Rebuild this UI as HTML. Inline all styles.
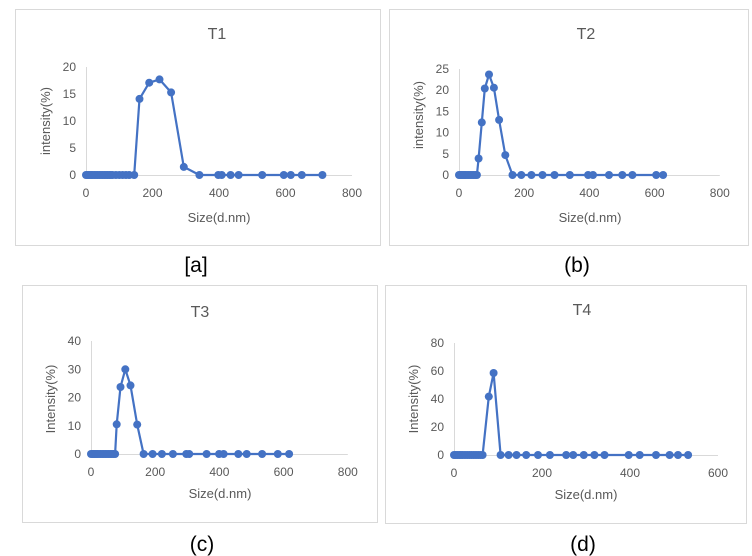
<!DOCTYPE html>
<html><head><meta charset="utf-8"><style>
html,body{margin:0;padding:0;background:#fff;}
svg{display:block;font-family:"Liberation Sans",sans-serif;}
</style></head><body>
<svg id="s" width="752" height="556" xmlns="http://www.w3.org/2000/svg">
<rect x="15.5" y="9.5" width="365" height="236" fill="#fff" stroke="#d9d9d9"/>
<rect x="389.5" y="9.5" width="359" height="236" fill="#fff" stroke="#d9d9d9"/>
<rect x="22.5" y="285.5" width="355" height="237" fill="#fff" stroke="#d9d9d9"/>
<rect x="385.5" y="285.5" width="361" height="238" fill="#fff" stroke="#d9d9d9"/>
<text x="217" y="39" font-size="16" fill="#595959" text-anchor="middle">T1</text>
<text x="586" y="39" font-size="16" fill="#595959" text-anchor="middle">T2</text>
<text x="200" y="317" font-size="16" fill="#595959" text-anchor="middle">T3</text>
<text x="582" y="315" font-size="16" fill="#595959" text-anchor="middle">T4</text>
<text x="219" y="222" font-size="13" fill="#595959" text-anchor="middle">Size(d.nm)</text>
<text x="590" y="222" font-size="13" fill="#595959" text-anchor="middle">Size(d.nm)</text>
<text x="220" y="498" font-size="13" fill="#595959" text-anchor="middle">Size(d.nm)</text>
<text x="586" y="499" font-size="13" fill="#595959" text-anchor="middle">Size(d.nm)</text>
<text transform="translate(50,121) rotate(-90)" font-size="13" fill="#595959" text-anchor="middle">intensity(%)</text>
<text transform="translate(423,115) rotate(-90)" font-size="13" fill="#595959" text-anchor="middle">intensity(%)</text>
<text transform="translate(55,399) rotate(-90)" font-size="13" fill="#595959" text-anchor="middle">Intensity(%)</text>
<text transform="translate(418,399) rotate(-90)" font-size="13" fill="#595959" text-anchor="middle">Intensity(%)</text>
<text x="196" y="272" font-size="21" fill="#000" text-anchor="middle">[a]</text>
<text x="577" y="272" font-size="21" fill="#000" text-anchor="middle">(b)</text>
<text x="202" y="551" font-size="21" fill="#000" text-anchor="middle">(c)</text>
<text x="583" y="551" font-size="21" fill="#000" text-anchor="middle">(d)</text>
</svg>
<script>
var s=document.getElementById('s'),NS='http://www.w3.org/2000/svg';
function el(t,a,txt){var e=document.createElementNS(NS,t);for(var k in a)e.setAttribute(k,a[k]);if(txt!==undefined)e.textContent=txt;s.appendChild(e);return e;}
function zeros(m){var r=[],v=[0,4,8,12,16,20,25,30,35,40,45,50,55,60,65,70,75,80,90,100,110,120,130,145];for(var i=0;i<v.length;i++)if(v[i]<=m)r.push([v[i],0]);return r;}
function chart(c){
 el('line',{x1:c.ox,y1:c.oy+0.5,x2:c.ox+c.xmax*c.sx,y2:c.oy+0.5,stroke:'#d9d9d9','stroke-width':1});
 el('line',{x1:c.ox+0.5,y1:c.oy,x2:c.ox+0.5,y2:c.oy-c.ymax*c.sy,stroke:'#d9d9d9','stroke-width':1});
 for(var y=0;y<=c.ymax;y+=c.ys)el('text',{x:c.ox-10,y:c.oy-y*c.sy+4,'font-size':12,fill:'#595959','text-anchor':'end'},y);
 for(var x=0;x<=c.xmax;x+=c.xs)el('text',{x:c.ox+x*c.sx,y:c.oy+22,'font-size':12,fill:'#595959','text-anchor':'middle'},x);
 var p=c.d.map(function(q){return (c.ox+q[0]*c.sx).toFixed(1)+','+(c.oy-q[1]*c.sy).toFixed(1);});
 el('polyline',{points:p.join(' '),fill:'none',stroke:'#4472c4','stroke-width':2.2,'stroke-linejoin':'round'});
 p.forEach(function(q){var a=q.split(',');el('circle',{cx:a[0],cy:a[1],r:4,fill:'#4472c4'});});
}
chart({ox:86,oy:175,sx:0.3325,sy:5.4,xmax:800,ymax:20,xs:200,ys:5,
 d:zeros(145).concat([[161,14.1],[190,17.1],[221,17.7],[256,15.3],[294,1.5],[341,0],[398,0],[408,0],[435,0],[459,0],[530,0],[595,0],[616,0],[649,0],[711,0]])});
chart({ox:459,oy:175,sx:0.326,sy:4.24,xmax:800,ymax:25,xs:200,ys:5,
 d:zeros(55).concat([[60,3.9],[70,12.4],[79,20.4],[92,23.7],[107,20.6],[123,13],[142,4.7],[164,0],[191,0],[222,0],[256,0],[293,0],[340,0],[396,0],[411,0],[460,0],[501,0],[532,0],[605,0],[626,0]])});
chart({ox:91,oy:454,sx:0.321,sy:2.825,xmax:800,ymax:40,xs:200,ys:10,
 d:zeros(75).concat([[80,10.5],[92,23.7],[107,30],[123,24.3],[144,10.4],[164,0],[192,0],[221,0],[255,0],[297,0],[306,0],[360,0],[399,0],[413,0],[459,0],[485,0],[533,0],[582,0],[617,0]])});
chart({ox:454,oy:455,sx:0.44,sy:1.4,xmax:600,ymax:80,xs:200,ys:20,
 d:zeros(69).concat([[79,41.7],[90,58.6],[106,0],[124,0],[142,0],[164,0],[191,0],[218,0],[255,0],[271,0],[295,0],[319,0],[342,0],[397,0],[422,0],[459,0],[490,0],[509,0],[532,0]])});
</script>
</body></html>
